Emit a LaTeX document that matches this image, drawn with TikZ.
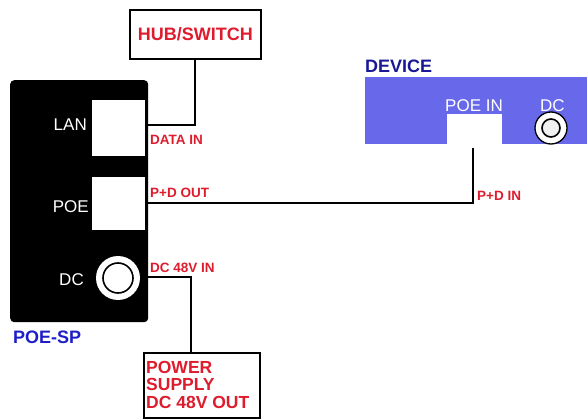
\documentclass[tikz,border=0pt]{standalone}
\usepackage{fontspec}
\setmainfont{Liberation Sans}
\definecolor{myred}{RGB}{222,28,45}
\definecolor{devblue}{RGB}{104,104,234}
\definecolor{darkblue}{RGB}{25,25,150}
\definecolor{poeblue}{RGB}{30,30,200}
\begin{document}
\begin{tikzpicture}[x=1pt,y=-1pt,
  conn/.style={draw=black, line width=1.8pt},
  boxed/.style={draw=black, line width=1.6pt, fill=white, inner sep=0pt, anchor=north west},
  redlbl/.style={text=myred, font=\bfseries\fontsize{13.5}{13.5}\selectfont, anchor=base west, inner sep=0pt},
  psulbl/.style={text=myred, font=\bfseries\fontsize{17.5}{17.5}\selectfont, anchor=base west, inner sep=0pt},
  whitelbl/.style={text=white, font=\fontsize{17}{17}\selectfont, anchor=base east, inner sep=0pt},
  port/.style={fill=white, inner sep=0pt, anchor=north west},
  title/.style={font=\bfseries\fontsize{18}{18}\selectfont, anchor=base west, inner sep=0pt}]
\useasboundingbox (0,0) rectangle (587,420);
% POE-SP unit
\node[fill=black, rounded corners=4pt, minimum width=138pt, minimum height=242pt, inner sep=0pt, anchor=north west] (poesp) at (10,80) {};
\node[port, minimum width=53pt, minimum height=56pt] (lan) at (92,100) {};
\node[port, minimum width=53pt, minimum height=53pt] (poe) at (92,177) {};
\node[circle, fill=white, minimum size=44pt, inner sep=0pt] (dcjack) at (118,278) {};
\node[circle, draw=black, line width=1.6pt, minimum size=30pt, inner sep=0pt] (dcinner) at (dcjack) {};
\node[whitelbl] (lanlbl) at (87,131) {LAN};
\node[whitelbl] (poelbl) at (89,212) {POE};
\node[whitelbl] (dclbl) at (84,285) {DC};
\node[title, text=poeblue] (poesplbl) at (13,343) {POE-SP};
% Hub
\node[boxed, minimum width=131pt, minimum height=49pt, text=myred, font=\bfseries\fontsize{18}{18}\selectfont] (hub) at (129,9) {HUB/SWITCH};
% Power supply
\node[boxed, minimum width=116pt, minimum height=65pt] (psu) at (143,352) {};
\node[psulbl] (psul1) at (146,373) {POWER};
\node[psulbl] (psul2) at (146,390.5) {SUPPLY};
\node[psulbl] (psul3) at (146,408) {DC 48V OUT};
% Device
\node[fill=devblue, minimum width=222pt, minimum height=67pt, inner sep=0pt, anchor=north west] (device) at (365,77) {};
\node[port, minimum width=55pt, minimum height=30pt] (poein) at (447,114) {};
\node[circle, draw=black, line width=1.3pt, fill=white, minimum size=32pt, inner sep=0pt] (devdc) at (551,128) {};
\node[circle, draw=black, line width=1.6pt, fill=gray!12, minimum size=18pt, inner sep=0pt] (devdcin) at (devdc) {};
\node[title, text=darkblue] (devlbl) at (365,73) {DEVICE};
\node[text=white, font=\fontsize{17}{17}\selectfont, anchor=base west, inner sep=0pt] (poeinlbl) at (445,111) {POE IN};
\node[text=white, font=\fontsize{17}{17}\selectfont, anchor=base west, inner sep=0pt] (devdclbl) at (540,111) {DC};
% Connectors
\coordinate (dataend) at (148,125);
\coordinate (pdout) at (148,203);
\coordinate (pdin) at (473,148);
\coordinate (dcin) at (148,277);
\coordinate (psutop) at (191,352);
\draw[conn] (hub.south) |- (dataend);
\draw[conn] (pdout) -| (pdin);
\draw[conn] (dcin) -| (psutop);
% Red labels
\node[redlbl] (datain) at (150,144) {DATA IN};
\node[redlbl] (pdoutlbl) at (150,197) {P+D OUT};
\node[redlbl] (dcinlbl) at (150,272) {DC 48V IN};
\node[redlbl] (pdinlbl) at (477,200) {P+D IN};
\end{tikzpicture}
\end{document}
